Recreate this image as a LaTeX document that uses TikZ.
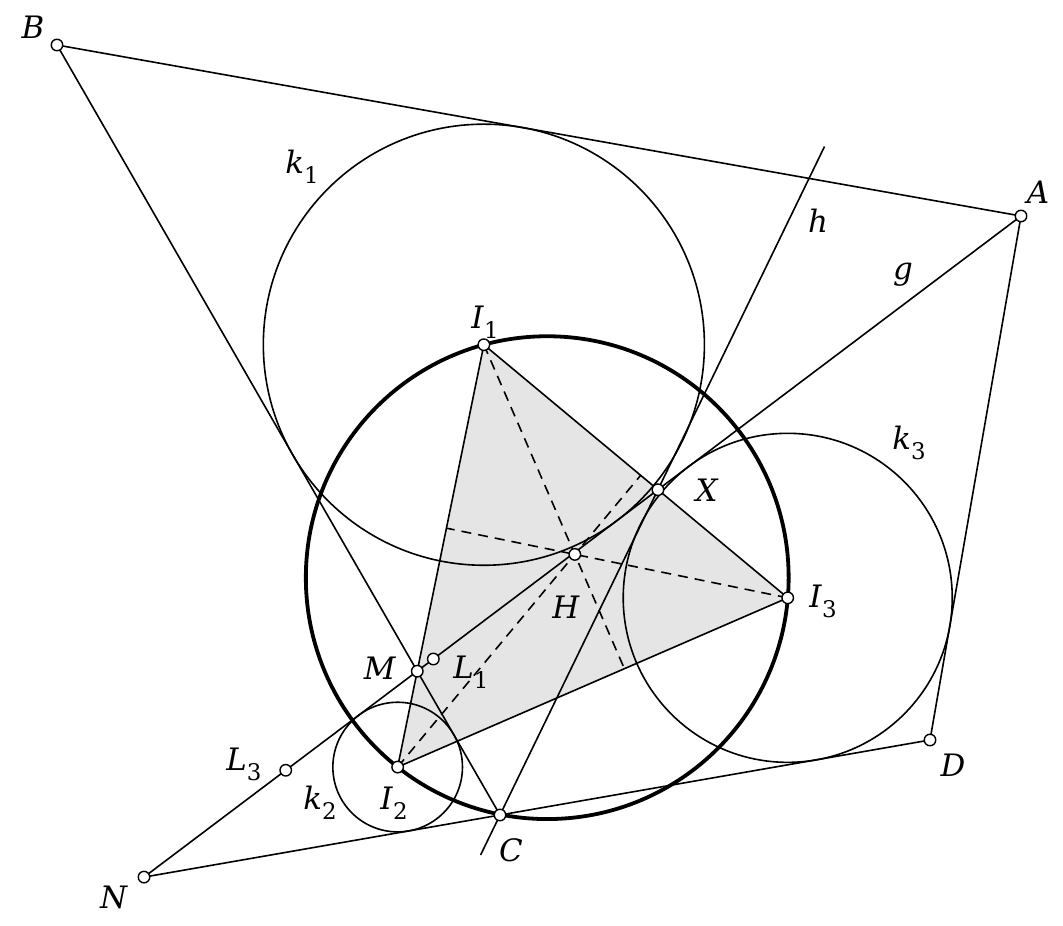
\documentclass[tikz,border=0pt]{standalone}
\usepackage{fontspec}
\setmainfont{DejaVu Serif}
\usetikzlibrary{calc}
\newcommand\lab[2]{\textit{#1}\raisebox{-0.32em}{\fontsize{23}{23}\selectfont #2}}
\newcommand\myincenter[4]{%
  \path let \p1=(#2), \p2=(#3), \p3=(#4),
    \n1={veclen(\x3-\x2,\y3-\y2)},
    \n2={veclen(\x3-\x1,\y3-\y1)},
    \n3={veclen(\x2-\x1,\y2-\y1)},
    \n4={\n1+\n2+\n3}
  in coordinate (#1) at ({\n1/\n4*\x1+\n2/\n4*\x2+\n3/\n4*\x3},{\n1/\n4*\y1+\n2/\n4*\y2+\n3/\n4*\y3});%
}
\begin{document}
\begin{tikzpicture}[x=1bp,y=-1bp,line width=1.6bp,
  dotpt/.style={circle,draw,fill=white,inner sep=0pt,minimum size=11.5bp,line width=1.4bp},
  lbl/.style={font=\fontsize{31}{31}\selectfont,inner sep=0pt},
  thinline/.style={line width=1.6bp},
  thickcirc/.style={line width=3.8bp},
  alt/.style={line width=1.6bp,dash pattern=on 10bp off 7bp},
  shade/.style={fill=gray!20}]
\useasboundingbox (0,0) rectangle (1063,926);
% primary points
\coordinate (A) at (1021,216);
\coordinate (B) at (57,45);
\coordinate (C) at (500,815);
\coordinate (D) at (930,740);
\coordinate (N) at (144,877.1);
\coordinate (M) at (intersection of A--N and B--C);
% incenters
\myincenter{I1}{A}{B}{M}
\myincenter{I2}{M}{C}{N}
\myincenter{I3}{N}{D}{A}
% tangency feet
\coordinate (T1) at ($(A)!(I1)!(B)$);
\coordinate (T2) at ($(C)!(I2)!(N)$);
\coordinate (T3) at ($(A)!(I3)!(D)$);
% circumcenter
\coordinate (P12) at ($(I1)!0.5!(I2)$);
\coordinate (Q12) at ($(P12)!1!90:(I2)$);
\coordinate (P23) at ($(I2)!0.5!(I3)$);
\coordinate (Q23) at ($(P23)!1!90:(I3)$);
\coordinate (O) at (intersection of P12--Q12 and P23--Q23);
% altitude feet and orthocenter
\coordinate (F1) at ($(I2)!(I1)!(I3)$);
\coordinate (F2) at ($(I1)!(I2)!(I3)$);
\coordinate (F3) at ($(I1)!(I3)!(I2)$);
\coordinate (H) at (intersection of I1--F1 and I3--F3);
\coordinate (X) at (intersection of I1--I3 and A--N);
\coordinate (L1) at ($(A)!0.6701!(N)$);
\coordinate (L3) at ($(A)!0.8384!(N)$);
\coordinate (h1) at ($(C)!-0.123!(X)$);
\coordinate (h2) at ($(C)!2.055!(X)$);
% shaded triangle
\path[shade] (I1) -- (I2) -- (I3) -- cycle;
% circles
\draw[thinline] let \p1=($(I1)-(T1)$), \n1={veclen(\x1,\y1)} in (I1) circle[radius=\n1];
\draw[thinline] let \p1=($(I2)-(T2)$), \n1={veclen(\x1,\y1)} in (I2) circle[radius=\n1];
\draw[thinline] let \p1=($(I3)-(T3)$), \n1={veclen(\x1,\y1)} in (I3) circle[radius=\n1];
\draw[thickcirc] let \p1=($(I1)-(O)$), \n1={veclen(\x1,\y1)} in (O) circle[radius=\n1];
% lines
\draw[thinline,line join=round] (B) -- (A) -- (D) -- (N) -- (A);
\draw[thinline] (B) -- (C);
\draw[thinline] (h1) -- (h2);
% altitudes
\draw[alt] (I1) -- (F1);
\draw[alt] (I2) -- (F2);
\draw[alt] (I3) -- (F3);
% triangle sides
\draw[thinline,line join=round] (I1) -- (I2) -- (I3) -- cycle;
% points
\foreach \p in {A,B,C,D,N,M,I1,I2,I3,H,X,L1,L3}
  \node[dotpt] (n\p) at (\p) {};
% labels
\node[lbl] (lB) at (33,27) {\textit{B}};
\node[lbl] (lA) at (1038,192) {\textit{A}};
\node[lbl] (lD) at (953,765) {\textit{D}};
\node[lbl] (lC) at (511,850) {\textit{C}};
\node[lbl] (lN) at (114,897) {\textit{N}};
\node[lbl] (lL3) at (244,764) {\lab{L}{3}};
\node[lbl] (lk2) at (320,803) {\lab{k}{2}};
\node[lbl] (lI2) at (394,803) {\lab{I}{2}};
\node[lbl] (lM) at (380,668) {\textit{M}};
\node[lbl] (lL1) at (471,672) {\lab{L}{1}};
\node[lbl] (lH) at (566,607) {\textit{H}};
\node[lbl] (lX) at (707,490) {\textit{X}};
\node[lbl] (lI3) at (823,601) {\lab{I}{3}};
\node[lbl] (lk3) at (909,443) {\lab{k}{3}};
\node[lbl] (lI1) at (485,322) {\lab{I}{1}};
\node[lbl] (lk1) at (302,167) {\lab{k}{1}};
\node[lbl] (lh) at (818,221) {\textit{h}};
\node[lbl] (lg) at (903,275) {\textit{g}};
\end{tikzpicture}
\end{document}
